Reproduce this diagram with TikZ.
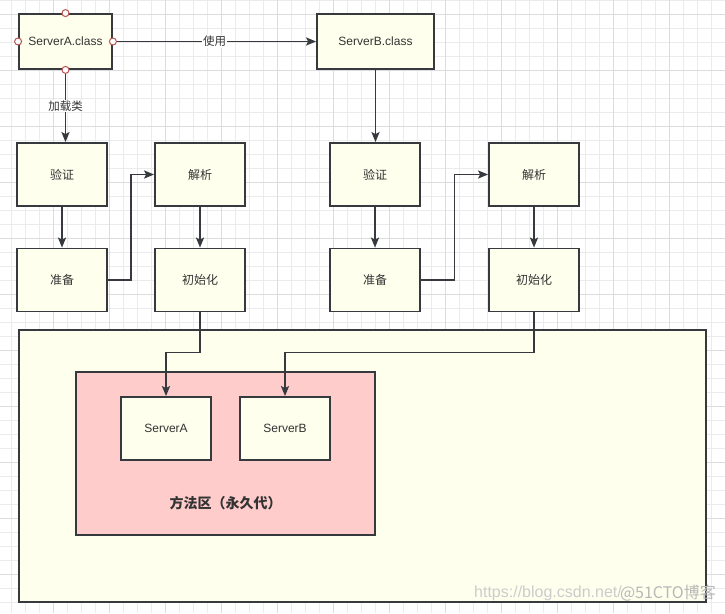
\documentclass[tikz,border=0pt]{standalone}
\usepackage{fontspec}
\setmainfont{Liberation Sans}
\newfontfamily\cjk{Noto Sans CJK SC}
\usetikzlibrary{arrows.meta}
\usetikzlibrary{calc}
\definecolor{boxfill}{HTML}{FFFFEE}
\definecolor{boxline}{HTML}{36393D}
\definecolor{methodfill}{HTML}{FFCCCC}
\definecolor{txt}{HTML}{333333}
\definecolor{gridminor}{HTML}{EBEBEB}
\definecolor{gridmajor}{HTML}{DCDCDC}
\definecolor{portline}{HTML}{B85450}

\begin{document}
\begin{tikzpicture}[x=1pt,y=-1pt,
    box/.style={draw=boxline,line width=1.8pt,fill=boxfill,inner sep=0pt,text=txt},
    stage/.style={box,minimum width=90pt,minimum height=63pt,font=\cjk\fontsize{12}{14}\selectfont},
    cls/.style={box,minimum height=55pt,font=\fontsize{12}{14}\selectfont},
    conn/.style={draw=boxline,line width=1.8pt,-{Stealth[length=10pt,width=8pt,inset=2pt]}},
    lbl/.style={fill=white,inner sep=1pt,text=txt,font=\cjk\fontsize{11.5}{13}\selectfont},
    port/.style={circle,draw=portline,fill=white,line width=1pt,inner sep=0pt,minimum size=7pt}]
    \useasboundingbox (0,0) rectangle (725,613);
    \fill[white] (0,0) rectangle (725,613);
    % grid
    \foreach \i in {0,...,51}{
      \draw[gridminor,line width=1pt] ({11+14*\i},0) -- ++(0,613);
    }
    \foreach \j in {0,...,43}{
      \draw[gridminor,line width=1pt] (0,{14*\j}) -- ++(725,0);
    }
    \foreach \i in {0,...,12}{
      \draw[gridmajor,line width=1pt] ({53+56*\i},0) -- ++(0,613);
    }
    \foreach \j in {0,...,10}{
      \draw[gridmajor,line width=1pt] (0,{14+56*\j}) -- ++(725,0);
    }

    % class files
    \node[cls,minimum width=93pt] (clsA) at (65.5,41.5) {ServerA.class};
    \node[cls,minimum width=117pt] (clsB) at (375.5,41.5) {ServerB.class};

    % loading stages
    \node[stage] (verA) at (62,174.5) {验证};
    \node[stage] (parA) at (200,174.5) {解析};
    \node[stage] (preA) at (62,280) {准备};
    \node[stage] (iniA) at (200,280) {初始化};
    \node[stage] (verB) at (375,174.5) {验证};
    \node[stage] (parB) at (534,174.5) {解析};
    \node[stage] (preB) at (375,280) {准备};
    \node[stage] (iniB) at (534,280) {初始化};

    % heap and method area
    \node[box,minimum width=687pt,minimum height=272pt] (heap) at (362.5,466) {};
    \node[box,fill=methodfill,minimum width=299pt,minimum height=163pt] (method) at (225.5,453.5) {};
    \node[stage,font=\fontsize{12}{14}\selectfont] (srvA) at (166,428.5) {ServerA};
    \node[stage,font=\fontsize{12}{14}\selectfont] (srvB) at (285,428.5) {ServerB};
    \node[text=txt,font=\cjk\bfseries\fontsize{14}{16}\selectfont] (methodLbl) at (225.5,503) {方法区（永久代）};

    % connectors
    \draw[conn] (clsA.east) -- node[lbl] {使用} (clsB.west);
    \draw[conn] (clsA.south) -- node[lbl,pos=.5] {加载类} (clsA.south |- verA.north);
    \draw[conn] (clsB.south) -- (clsB.south |- verB.north);
    \draw[conn] (verA) -- (preA);
    \draw[conn] (parA) -- (iniA);
    \draw[conn] (verB) -- (preB);
    \draw[conn] (parB) -- (iniB);
    \draw[conn] (preA.east) -| ($(preA.east)!.5!(parA.west)$) |- (parA.west);
    \draw[conn] (preB.east) -| ($(preB.east)!.5!(parB.west)$) |- (parB.west);
    \draw[conn] (iniA.south) -- ++(0,40) -| (srvA.north);
    \draw[conn] (iniB.south) -- ++(0,40) -| (srvB.north);

    % ports on ServerA.class
    \foreach \side in {north,south,east,west}{
      \node[port] at (clsA.\side) {};
    }

    % watermark
    \node[anchor=west,text=black!20,font=\fontsize{16}{18}\selectfont,inner sep=0pt] (wmUrl) at (474,593) {https://blog.csdn.net/};
    \node[anchor=east,text=black!28,font=\cjk\fontsize{16}{18}\selectfont,inner sep=0pt] (wmSite) at (716,593) {@51CTO博客};
\end{tikzpicture}
\end{document}
